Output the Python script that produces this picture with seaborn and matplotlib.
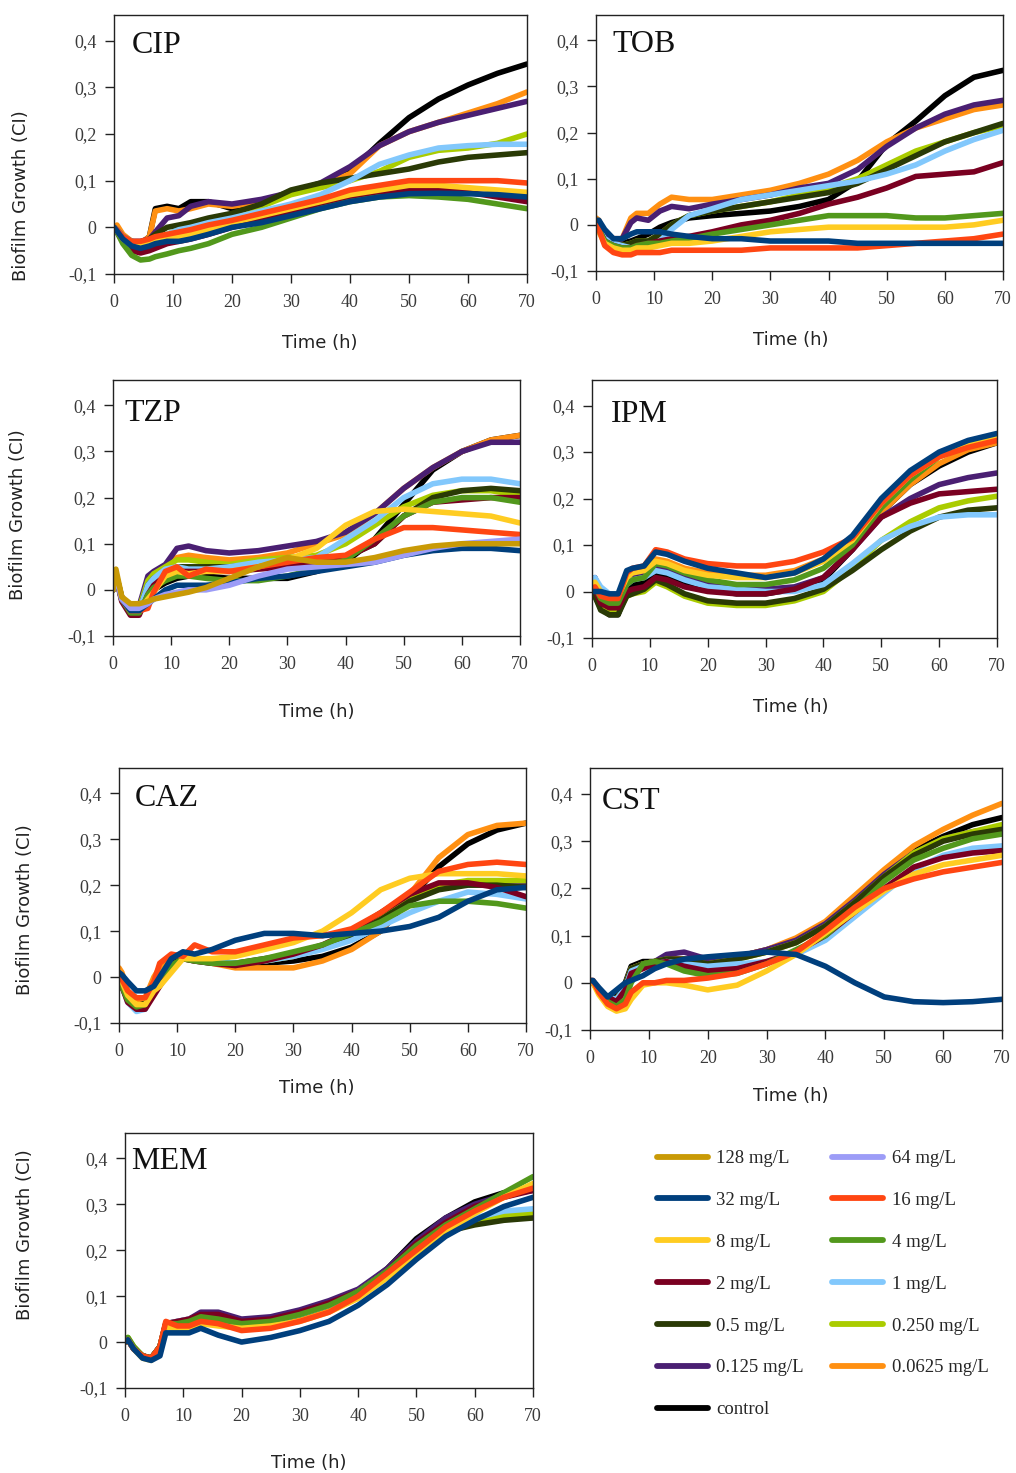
import matplotlib
matplotlib.use("Agg")
import matplotlib.pyplot as plt
from matplotlib.lines import Line2D
import numpy as np
import pandas as pd
import seaborn as sns

# ---------------------------------------------------------------- data
TIME_H = [0, 0.5, 1.5, 3, 4.5, 6, 7, 9, 11, 13, 16, 20, 25, 30, 35, 40, 45, 50, 55, 60, 65, 70]

CONC_ORDER = ["control", "0.0625 mg/L", "0.125 mg/L", "0.250 mg/L", "0.5 mg/L", "1 mg/L",
              "2 mg/L", "4 mg/L", "8 mg/L", "16 mg/L", "32 mg/L", "64 mg/L", "128 mg/L"]

COLORS = {
    "128 mg/L": "#C99A06", "64 mg/L": "#9C9CF7", "32 mg/L": "#003F7D", "16 mg/L": "#FF4612",
    "8 mg/L": "#FFCC22", "4 mg/L": "#52981C", "2 mg/L": "#7A0021", "1 mg/L": "#82C8FC",
    "0.5 mg/L": "#2A3A06", "0.250 mg/L": "#AACC00", "0.125 mg/L": "#4A1F72",
    "0.0625 mg/L": "#FF9012", "control": "#000000",
}

CIP = {
    "control":     [0.0, -0.005, -0.02, -0.033, -0.035, -0.02, 0.04, 0.045, 0.04, 0.055, 0.055, 0.04, 0.055, 0.075, 0.09, 0.12, 0.18, 0.235, 0.275, 0.305, 0.33, 0.35],
    "0.0625 mg/L": [0.0, 0.005, -0.015, -0.03, -0.035, -0.02, 0.035, 0.04, 0.035, 0.04, 0.05, 0.045, 0.055, 0.075, 0.09, 0.115, 0.175, 0.205, 0.225, 0.245, 0.265, 0.29],
    "0.125 mg/L":  [0.0, -0.005, -0.02, -0.03, -0.03, -0.025, -0.01, 0.02, 0.025, 0.045, 0.055, 0.05, 0.06, 0.075, 0.095, 0.13, 0.175, 0.205, 0.225, 0.24, 0.255, 0.27],
    "0.250 mg/L":  [0.0, -0.005, -0.02, -0.03, -0.035, -0.03, -0.025, -0.015, -0.005, 0.0, 0.01, 0.025, 0.045, 0.07, 0.085, 0.1, 0.12, 0.15, 0.165, 0.17, 0.18, 0.2],
    "0.5 mg/L":    [0.0, -0.005, -0.02, -0.03, -0.035, -0.025, -0.015, 0.0, 0.005, 0.01, 0.02, 0.03, 0.05, 0.08, 0.095, 0.105, 0.115, 0.125, 0.14, 0.15, 0.155, 0.16],
    "1 mg/L":      [0.0, -0.005, -0.02, -0.03, -0.035, -0.03, -0.025, -0.015, -0.005, 0.0, 0.01, 0.02, 0.035, 0.05, 0.07, 0.1, 0.135, 0.155, 0.17, 0.175, 0.178, 0.178],
    "2 mg/L":      [0.0, -0.01, -0.03, -0.05, -0.055, -0.05, -0.045, -0.035, -0.03, -0.025, -0.015, 0.0, 0.015, 0.03, 0.045, 0.06, 0.075, 0.08, 0.08, 0.075, 0.065, 0.055],
    "4 mg/L":      [0.0, -0.01, -0.035, -0.06, -0.07, -0.068, -0.063, -0.057, -0.05, -0.045, -0.035, -0.015, 0.0, 0.02, 0.04, 0.055, 0.065, 0.068, 0.065, 0.06, 0.05, 0.04],
    "8 mg/L":      [0.0, -0.008, -0.025, -0.038, -0.04, -0.035, -0.03, -0.025, -0.02, -0.015, -0.005, 0.01, 0.025, 0.04, 0.055, 0.07, 0.08, 0.09, 0.09, 0.085, 0.08, 0.075],
    "16 mg/L":     [0.0, -0.005, -0.02, -0.03, -0.03, -0.025, -0.02, -0.015, -0.01, -0.005, 0.005, 0.015, 0.03, 0.045, 0.06, 0.08, 0.09, 0.1, 0.1, 0.1, 0.1, 0.095],
    "32 mg/L":     [0.0, -0.008, -0.025, -0.04, -0.045, -0.04, -0.035, -0.03, -0.03, -0.025, -0.015, 0.0, 0.01, 0.025, 0.04, 0.055, 0.065, 0.072, 0.073, 0.072, 0.07, 0.065],
}

TOB = {
    "control":     [0.0, -0.01, -0.03, -0.04, -0.04, -0.035, -0.03, -0.02, -0.005, 0.005, 0.015, 0.02, 0.025, 0.03, 0.04, 0.055, 0.095, 0.175, 0.225, 0.28, 0.32, 0.335],
    "0.0625 mg/L": [0.015, 0.01, -0.02, -0.03, -0.03, 0.015, 0.025, 0.025, 0.045, 0.06, 0.055, 0.055, 0.065, 0.075, 0.09, 0.11, 0.14, 0.18, 0.21, 0.23, 0.25, 0.26],
    "0.125 mg/L":  [0.01, 0.005, -0.02, -0.03, -0.03, 0.005, 0.015, 0.01, 0.03, 0.04, 0.035, 0.045, 0.055, 0.065, 0.08, 0.09, 0.12, 0.17, 0.21, 0.24, 0.26, 0.27],
    "0.250 mg/L":  [0.0, -0.01, -0.035, -0.045, -0.045, -0.04, -0.035, -0.035, -0.02, 0.0, 0.02, 0.03, 0.04, 0.05, 0.065, 0.08, 0.1, 0.13, 0.16, 0.18, 0.2, 0.215],
    "0.5 mg/L":    [0.0, -0.01, -0.035, -0.045, -0.045, -0.04, -0.035, -0.035, -0.02, 0.0, 0.02, 0.03, 0.04, 0.05, 0.06, 0.07, 0.09, 0.12, 0.15, 0.18, 0.2, 0.22],
    "1 mg/L":      [0.0, -0.01, -0.03, -0.04, -0.045, -0.05, -0.05, -0.045, -0.035, -0.01, 0.02, 0.035, 0.055, 0.065, 0.075, 0.085, 0.095, 0.11, 0.13, 0.16, 0.185, 0.205],
    "2 mg/L":      [0.0, -0.01, -0.035, -0.045, -0.05, -0.05, -0.045, -0.04, -0.035, -0.03, -0.025, -0.015, 0.0, 0.01, 0.025, 0.045, 0.06, 0.08, 0.105, 0.11, 0.115, 0.135],
    "4 mg/L":      [0.0, -0.01, -0.035, -0.045, -0.05, -0.05, -0.045, -0.04, -0.04, -0.035, -0.03, -0.02, -0.01, 0.0, 0.01, 0.02, 0.02, 0.02, 0.015, 0.015, 0.02, 0.025],
    "8 mg/L":      [0.0, -0.015, -0.04, -0.05, -0.055, -0.055, -0.05, -0.05, -0.045, -0.04, -0.04, -0.035, -0.025, -0.015, -0.01, -0.005, -0.005, -0.005, -0.005, -0.005, 0.0, 0.01],
    "16 mg/L":     [0.01, -0.01, -0.045, -0.06, -0.065, -0.065, -0.06, -0.06, -0.06, -0.055, -0.055, -0.055, -0.055, -0.05, -0.05, -0.05, -0.05, -0.045, -0.04, -0.035, -0.03, -0.02],
    "32 mg/L":     [0.01, 0.01, -0.01, -0.03, -0.03, -0.02, -0.015, -0.015, -0.015, -0.02, -0.025, -0.03, -0.03, -0.035, -0.035, -0.035, -0.04, -0.04, -0.04, -0.04, -0.04, -0.04],
}

TZP = {
    "control":     [0.0, 0.03, -0.02, -0.045, -0.045, -0.01, 0.0, 0.015, 0.025, 0.03, 0.03, 0.025, 0.025, 0.025, 0.04, 0.06, 0.11, 0.185, 0.26, 0.3, 0.325, 0.335],
    "0.0625 mg/L": [0.0, 0.035, -0.015, -0.04, -0.04, 0.02, 0.035, 0.05, 0.07, 0.075, 0.07, 0.065, 0.07, 0.08, 0.1, 0.12, 0.165, 0.22, 0.265, 0.3, 0.325, 0.335],
    "0.125 mg/L":  [0.0, 0.035, -0.015, -0.04, -0.035, 0.03, 0.04, 0.055, 0.09, 0.095, 0.085, 0.08, 0.085, 0.095, 0.105, 0.125, 0.165, 0.22, 0.265, 0.3, 0.32, 0.32],
    "0.250 mg/L":  [0.0, 0.035, -0.015, -0.045, -0.04, 0.02, 0.035, 0.05, 0.065, 0.065, 0.06, 0.055, 0.065, 0.07, 0.075, 0.1, 0.14, 0.18, 0.205, 0.215, 0.215, 0.205],
    "0.5 mg/L":    [0.0, 0.03, -0.02, -0.045, -0.045, 0.01, 0.025, 0.04, 0.05, 0.05, 0.05, 0.05, 0.055, 0.06, 0.065, 0.07, 0.1, 0.16, 0.2, 0.215, 0.22, 0.215],
    "1 mg/L":      [0.0, 0.03, -0.02, -0.045, -0.045, 0.01, 0.025, 0.045, 0.05, 0.045, 0.045, 0.05, 0.06, 0.065, 0.07, 0.11, 0.15, 0.2, 0.23, 0.24, 0.24, 0.23],
    "2 mg/L":      [0.0, 0.03, -0.025, -0.055, -0.055, -0.01, 0.01, 0.03, 0.04, 0.04, 0.04, 0.04, 0.045, 0.05, 0.06, 0.07, 0.1, 0.16, 0.19, 0.195, 0.2, 0.2],
    "4 mg/L":      [0.0, 0.03, -0.02, -0.05, -0.05, -0.01, 0.005, 0.02, 0.03, 0.03, 0.025, 0.02, 0.02, 0.03, 0.045, 0.065, 0.11, 0.16, 0.19, 0.2, 0.2, 0.19],
    "8 mg/L":      [0.0, 0.03, -0.02, -0.045, -0.045, -0.02, -0.005, 0.03, 0.04, 0.035, 0.04, 0.04, 0.05, 0.065, 0.09, 0.14, 0.17, 0.175, 0.17, 0.165, 0.16, 0.145],
    "16 mg/L":     [0.0, 0.03, -0.02, -0.045, -0.045, -0.04, -0.005, 0.04, 0.05, 0.03, 0.045, 0.04, 0.05, 0.06, 0.07, 0.075, 0.11, 0.135, 0.135, 0.13, 0.125, 0.12],
    "32 mg/L":     [0.0, 0.03, -0.02, -0.045, -0.045, -0.03, -0.02, 0.0, 0.01, 0.01, 0.01, 0.015, 0.025, 0.03, 0.04, 0.05, 0.06, 0.075, 0.085, 0.09, 0.09, 0.085],
    "64 mg/L":     [0.0, 0.03, -0.02, -0.04, -0.04, -0.03, -0.02, -0.01, -0.005, 0.0, 0.0, 0.01, 0.03, 0.045, 0.05, 0.055, 0.06, 0.075, 0.09, 0.1, 0.105, 0.11],
    "128 mg/L":    [0.0, 0.045, -0.015, -0.03, -0.03, -0.025, -0.02, -0.015, -0.01, -0.005, 0.005, 0.025, 0.05, 0.07, 0.06, 0.06, 0.07, 0.085, 0.095, 0.1, 0.1, 0.1],
}

IPM = {
    "control":     [0.0, -0.01, -0.035, -0.05, -0.05, 0.0, 0.015, 0.02, 0.04, 0.03, 0.015, 0.005, -0.005, -0.005, 0.005, 0.025, 0.09, 0.17, 0.23, 0.27, 0.3, 0.32],
    "0.0625 mg/L": [0.0, 0.015, -0.005, -0.01, -0.01, 0.035, 0.045, 0.05, 0.07, 0.065, 0.05, 0.04, 0.035, 0.035, 0.045, 0.07, 0.11, 0.17, 0.23, 0.275, 0.305, 0.32],
    "0.125 mg/L":  [0.0, 0.03, 0.0, -0.01, -0.015, 0.02, 0.03, 0.035, 0.05, 0.045, 0.03, 0.015, 0.005, 0.005, 0.01, 0.03, 0.09, 0.16, 0.2, 0.23, 0.245, 0.255],
    "0.250 mg/L":  [0.0, 0.005, -0.03, -0.045, -0.045, -0.01, -0.005, 0.0, 0.02, 0.01, -0.01, -0.025, -0.03, -0.03, -0.02, 0.0, 0.05, 0.11, 0.15, 0.18, 0.195, 0.205],
    "0.5 mg/L":    [0.0, -0.01, -0.04, -0.05, -0.05, -0.01, -0.005, 0.005, 0.025, 0.015, -0.005, -0.02, -0.025, -0.025, -0.015, 0.005, 0.045, 0.09, 0.13, 0.16, 0.175, 0.18],
    "1 mg/L":      [0.0, 0.03, 0.01, -0.005, -0.01, 0.015, 0.025, 0.03, 0.045, 0.04, 0.025, 0.01, 0.005, 0.0, 0.0, 0.015, 0.06, 0.11, 0.14, 0.16, 0.165, 0.165],
    "2 mg/L":      [0.0, 0.005, -0.025, -0.035, -0.035, 0.0, 0.005, 0.01, 0.03, 0.025, 0.01, 0.0, -0.005, -0.005, 0.005, 0.03, 0.09, 0.16, 0.19, 0.21, 0.215, 0.22],
    "4 mg/L":      [0.0, 0.01, -0.015, -0.025, -0.025, 0.015, 0.025, 0.03, 0.06, 0.055, 0.04, 0.025, 0.015, 0.015, 0.025, 0.05, 0.1, 0.18, 0.24, 0.29, 0.315, 0.33],
    "8 mg/L":      [0.0, 0.02, 0.0, -0.01, -0.01, 0.03, 0.04, 0.045, 0.065, 0.06, 0.045, 0.035, 0.03, 0.03, 0.04, 0.065, 0.11, 0.19, 0.25, 0.29, 0.315, 0.33],
    "16 mg/L":     [0.0, 0.01, -0.01, -0.015, -0.015, 0.04, 0.05, 0.055, 0.09, 0.085, 0.07, 0.06, 0.055, 0.055, 0.065, 0.085, 0.115, 0.19, 0.25, 0.29, 0.31, 0.325],
    "32 mg/L":     [0.0, 0.0, 0.0, -0.005, -0.005, 0.045, 0.05, 0.055, 0.085, 0.08, 0.065, 0.05, 0.04, 0.03, 0.04, 0.07, 0.12, 0.2, 0.26, 0.3, 0.325, 0.34],
}

CAZ = {
    "control":     [0.0, -0.01, -0.045, -0.06, -0.055, -0.02, 0.0, 0.03, 0.04, 0.04, 0.035, 0.03, 0.03, 0.035, 0.045, 0.065, 0.1, 0.17, 0.24, 0.29, 0.32, 0.335],
    "0.0625 mg/L": [0.02, 0.01, -0.03, -0.05, -0.045, 0.0, 0.02, 0.045, 0.05, 0.04, 0.03, 0.02, 0.02, 0.02, 0.035, 0.06, 0.1, 0.18, 0.26, 0.31, 0.33, 0.335],
    "0.125 mg/L":  [0.0, -0.02, -0.05, -0.065, -0.06, -0.025, -0.005, 0.025, 0.04, 0.04, 0.035, 0.03, 0.035, 0.045, 0.065, 0.095, 0.13, 0.17, 0.195, 0.205, 0.205, 0.205],
    "0.250 mg/L":  [0.0, -0.02, -0.05, -0.065, -0.06, -0.025, -0.005, 0.025, 0.04, 0.04, 0.035, 0.03, 0.035, 0.045, 0.065, 0.095, 0.13, 0.17, 0.2, 0.21, 0.21, 0.21],
    "0.5 mg/L":    [0.0, -0.02, -0.05, -0.065, -0.06, -0.025, -0.005, 0.025, 0.04, 0.035, 0.03, 0.03, 0.04, 0.05, 0.065, 0.09, 0.125, 0.165, 0.19, 0.2, 0.2, 0.195],
    "1 mg/L":      [0.0, -0.02, -0.055, -0.075, -0.07, -0.03, -0.01, 0.02, 0.04, 0.04, 0.035, 0.03, 0.035, 0.045, 0.06, 0.08, 0.11, 0.14, 0.165, 0.185, 0.18, 0.17],
    "2 mg/L":      [0.0, -0.02, -0.055, -0.07, -0.07, -0.04, -0.02, 0.02, 0.04, 0.035, 0.03, 0.025, 0.035, 0.05, 0.07, 0.1, 0.14, 0.18, 0.205, 0.205, 0.195, 0.175],
    "4 mg/L":      [0.0, -0.02, -0.05, -0.065, -0.06, -0.02, 0.0, 0.025, 0.04, 0.035, 0.03, 0.03, 0.04, 0.055, 0.07, 0.095, 0.12, 0.155, 0.165, 0.165, 0.16, 0.15],
    "8 mg/L":      [0.0, -0.01, -0.04, -0.06, -0.06, -0.03, -0.02, 0.01, 0.04, 0.04, 0.04, 0.045, 0.06, 0.075, 0.1, 0.14, 0.19, 0.215, 0.225, 0.225, 0.225, 0.22],
    "16 mg/L":     [0.0, -0.005, -0.03, -0.045, -0.045, -0.01, 0.03, 0.05, 0.045, 0.07, 0.055, 0.055, 0.07, 0.085, 0.09, 0.105, 0.14, 0.185, 0.23, 0.245, 0.25, 0.245],
    "32 mg/L":     [0.01, 0.005, -0.01, -0.03, -0.03, -0.02, 0.0, 0.04, 0.055, 0.05, 0.06, 0.08, 0.095, 0.095, 0.09, 0.095, 0.1, 0.11, 0.13, 0.165, 0.19, 0.195],
}

CST = {
    "control":     [0.005, 0.0, -0.015, -0.03, -0.03, 0.0, 0.035, 0.045, 0.045, 0.05, 0.05, 0.045, 0.055, 0.07, 0.09, 0.125, 0.175, 0.23, 0.28, 0.31, 0.335, 0.35],
    "0.0625 mg/L": [0.005, 0.0, -0.015, -0.03, -0.035, -0.005, 0.03, 0.04, 0.045, 0.05, 0.05, 0.045, 0.055, 0.07, 0.095, 0.13, 0.185, 0.24, 0.29, 0.325, 0.355, 0.38],
    "0.125 mg/L":  [0.005, 0.0, -0.015, -0.03, -0.035, -0.005, 0.03, 0.04, 0.045, 0.06, 0.065, 0.05, 0.055, 0.07, 0.09, 0.125, 0.175, 0.23, 0.275, 0.305, 0.32, 0.33],
    "0.250 mg/L":  [0.005, 0.0, -0.015, -0.03, -0.035, -0.005, 0.03, 0.04, 0.045, 0.05, 0.045, 0.04, 0.05, 0.065, 0.085, 0.12, 0.17, 0.225, 0.275, 0.305, 0.32, 0.335],
    "0.5 mg/L":    [0.005, 0.0, -0.015, -0.03, -0.035, -0.005, 0.03, 0.04, 0.045, 0.05, 0.05, 0.04, 0.05, 0.065, 0.085, 0.12, 0.17, 0.225, 0.27, 0.3, 0.315, 0.325],
    "1 mg/L":      [0.005, 0.0, -0.015, -0.03, -0.035, -0.01, 0.025, 0.035, 0.04, 0.045, 0.04, 0.035, 0.04, 0.045, 0.06, 0.09, 0.14, 0.19, 0.24, 0.27, 0.285, 0.29],
    "2 mg/L":      [0.005, 0.0, -0.015, -0.03, -0.04, -0.015, 0.02, 0.03, 0.04, 0.045, 0.035, 0.025, 0.03, 0.045, 0.065, 0.1, 0.15, 0.2, 0.245, 0.265, 0.275, 0.28],
    "4 mg/L":      [0.005, 0.0, -0.02, -0.04, -0.05, -0.035, 0.0, 0.04, 0.045, 0.04, 0.025, 0.015, 0.02, 0.04, 0.07, 0.1, 0.155, 0.215, 0.26, 0.285, 0.305, 0.315],
    "8 mg/L":      [0.005, 0.0, -0.025, -0.05, -0.06, -0.055, -0.035, -0.005, 0.0, 0.0, -0.005, -0.015, -0.005, 0.025, 0.06, 0.105, 0.15, 0.195, 0.23, 0.25, 0.26, 0.27],
    "16 mg/L":     [0.005, 0.005, -0.02, -0.045, -0.055, -0.045, -0.02, 0.0, 0.0, 0.005, 0.005, 0.01, 0.02, 0.04, 0.065, 0.11, 0.16, 0.2, 0.22, 0.235, 0.245, 0.255],
    "32 mg/L":     [0.005, 0.005, -0.01, -0.03, -0.015, 0.0, 0.005, 0.015, 0.03, 0.04, 0.05, 0.055, 0.06, 0.065, 0.06, 0.035, 0.0, -0.03, -0.04, -0.042, -0.04, -0.035],
}

MEM = {
    "control":     [0.0, 0.005, -0.015, -0.03, -0.035, -0.01, 0.04, 0.04, 0.045, 0.055, 0.05, 0.04, 0.045, 0.06, 0.08, 0.11, 0.16, 0.225, 0.27, 0.305, 0.325, 0.335],
    "0.0625 mg/L": [0.0, 0.005, -0.015, -0.03, -0.035, -0.01, 0.04, 0.04, 0.045, 0.05, 0.045, 0.035, 0.04, 0.055, 0.075, 0.105, 0.155, 0.21, 0.255, 0.29, 0.32, 0.34],
    "0.125 mg/L":  [0.0, 0.005, -0.015, -0.03, -0.035, -0.01, 0.04, 0.045, 0.05, 0.065, 0.065, 0.05, 0.055, 0.07, 0.09, 0.115, 0.16, 0.22, 0.27, 0.3, 0.32, 0.33],
    "0.250 mg/L":  [0.0, 0.01, -0.01, -0.03, -0.035, -0.01, 0.04, 0.04, 0.045, 0.055, 0.05, 0.04, 0.045, 0.06, 0.08, 0.11, 0.15, 0.2, 0.24, 0.265, 0.275, 0.28],
    "0.5 mg/L":    [0.0, 0.005, -0.015, -0.03, -0.035, -0.01, 0.04, 0.04, 0.045, 0.055, 0.05, 0.04, 0.045, 0.06, 0.08, 0.11, 0.15, 0.2, 0.24, 0.255, 0.265, 0.27],
    "1 mg/L":      [0.0, 0.005, -0.015, -0.03, -0.035, -0.01, 0.04, 0.045, 0.05, 0.055, 0.05, 0.04, 0.045, 0.06, 0.08, 0.11, 0.155, 0.205, 0.245, 0.27, 0.285, 0.29],
    "2 mg/L":      [0.0, 0.005, -0.015, -0.03, -0.035, -0.01, 0.04, 0.045, 0.05, 0.06, 0.06, 0.045, 0.05, 0.065, 0.085, 0.11, 0.155, 0.215, 0.26, 0.295, 0.315, 0.33],
    "4 mg/L":      [0.0, 0.01, -0.01, -0.03, -0.035, -0.01, 0.04, 0.04, 0.045, 0.055, 0.05, 0.04, 0.045, 0.06, 0.08, 0.11, 0.155, 0.21, 0.255, 0.29, 0.325, 0.36],
    "8 mg/L":      [0.0, 0.005, -0.015, -0.035, -0.04, -0.015, 0.035, 0.025, 0.03, 0.04, 0.035, 0.03, 0.035, 0.045, 0.065, 0.095, 0.14, 0.19, 0.24, 0.28, 0.315, 0.345],
    "16 mg/L":     [0.0, 0.005, -0.015, -0.03, -0.035, -0.01, 0.045, 0.035, 0.035, 0.045, 0.04, 0.025, 0.03, 0.045, 0.065, 0.1, 0.15, 0.2, 0.25, 0.285, 0.315, 0.335],
    "32 mg/L":     [0.0, 0.005, -0.015, -0.035, -0.04, -0.03, 0.02, 0.02, 0.02, 0.03, 0.015, 0.0, 0.01, 0.025, 0.045, 0.08, 0.125, 0.18, 0.23, 0.265, 0.295, 0.315],
}

Y_TICKS = [-0.1, 0, 0.1, 0.2, 0.3, 0.4]
Y_TICK_LABELS = ["-0,1", "0", "0,1", "0,2", "0,3", "0,4"]
X_TICKS = [0, 10, 20, 30, 40, 50, 60, 70]

LEGEND_ORDER = ["128 mg/L", "32 mg/L", "8 mg/L", "2 mg/L", "0.5 mg/L", "0.125 mg/L", "control",
                "64 mg/L", "16 mg/L", "4 mg/L", "1 mg/L", "0.250 mg/L", "0.0625 mg/L"]

# ---------------------------------------------------------------- layout (pixels)
W, H = 1016, 1473
SERIF = "Liberation Serif"
SANS = "DejaVu Sans"

# name, data, box (left, right, top, bottom), title (x, baseline), ylabel centre or None, xlabel (x, baseline)
PANELS = [
    ("CIP", CIP, (114, 527, 15, 274), (132, 53), (21, 196), (320, 348)),
    ("TOB", TOB, (596, 1003, 15, 271), (612, 52), None, (791, 345)),
    ("TZP", TZP, (113, 520, 380, 636), (124, 421), (18, 515), (317, 717)),
    ("IPM", IPM, (592, 997, 380, 638), (611, 422), None, (791, 712)),
    ("CAZ", CAZ, (119, 526, 768, 1023), (135, 806), (25, 910), (317, 1093)),
    ("CST", CST, (590, 1002, 768, 1030), (602, 809), None, (791, 1101)),
    ("MEM", MEM, (125, 533, 1133, 1388), (131, 1169), (25, 1235), (309, 1468)),
]

sns.set_style("white")
plt.rcParams["font.family"] = [SANS]
plt.rcParams["axes.linewidth"] = 1.0

fig = plt.figure(figsize=(W / 100, H / 100), dpi=100)
fig.patch.set_facecolor("white")


def fx(x):
    return x / W


def fy(y):
    return 1 - y / H


for name, data, (l, r, t, b), (tx, ty), ylab, (xx, xy) in PANELS:
    ax = fig.add_axes([fx(l), fy(b), (r - l) / W, (b - t) / H])
    levels = [c for c in CONC_ORDER if c in data]
    df = pd.DataFrame(
        [(c, tt, v) for c in levels for tt, v in zip(TIME_H, data[c])],
        columns=["conc", "time", "ci"],
    )
    sns.lineplot(data=df, x="time", y="ci", hue="conc", hue_order=levels,
                 palette=COLORS, linewidth=4.0, estimator=None, sort=False,
                 legend=False, ax=ax)
    ax.set_xlim(0, 70)
    ax.set_ylim(-0.1, 0.455)
    ax.set_xticks(X_TICKS)
    ax.set_xticklabels([str(v) for v in X_TICKS])
    ax.set_yticks(Y_TICKS)
    ax.set_yticklabels(Y_TICK_LABELS)
    ax.set_xlabel("")
    ax.set_ylabel("")
    for s in ax.spines.values():
        s.set_color("#222222")
        s.set_linewidth(1.0)
        s.set_visible(True)
    ax.tick_params(axis="both", direction="out", length=6.5, width=1.0,
                   color="#222222", labelsize=13, labelcolor="#3a3a3a",
                   top=False, right=False, left=True, bottom=True)
    ax.tick_params(axis="y", pad=6)
    ax.tick_params(axis="x", pad=8)
    for lab in ax.get_xticklabels() + ax.get_yticklabels():
        lab.set_family(SERIF)

    fig.text(fx(tx), fy(ty), name, family=SERIF, fontsize=23, color="#111111",
             ha="left", va="baseline")
    fig.text(fx(xx), fy(xy), "Time (h)", family=SANS, fontsize=13, color="#222222",
             ha="center", va="baseline")
    if ylab is not None:
        fig.text(fx(ylab[0]), fy(ylab[1]), "Biofilm Growth (CI)", family=SANS,
                 fontsize=13, color="#222222", rotation=90, ha="center", va="center")

handles = [Line2D([0], [0], color=COLORS[c], linewidth=4.2) for c in LEGEND_ORDER]
fig.legend(handles, LEGEND_ORDER, loc="upper left",
           bbox_to_anchor=(fx(657), fy(1150)), ncol=2, frameon=False,
           prop={"family": SERIF, "size": 13.5}, handlelength=2.72,
           handletextpad=0.45, labelspacing=1.32, columnspacing=1.5,
           borderpad=0, borderaxespad=0)

fig.savefig("out.png", dpi=100, facecolor="white")
